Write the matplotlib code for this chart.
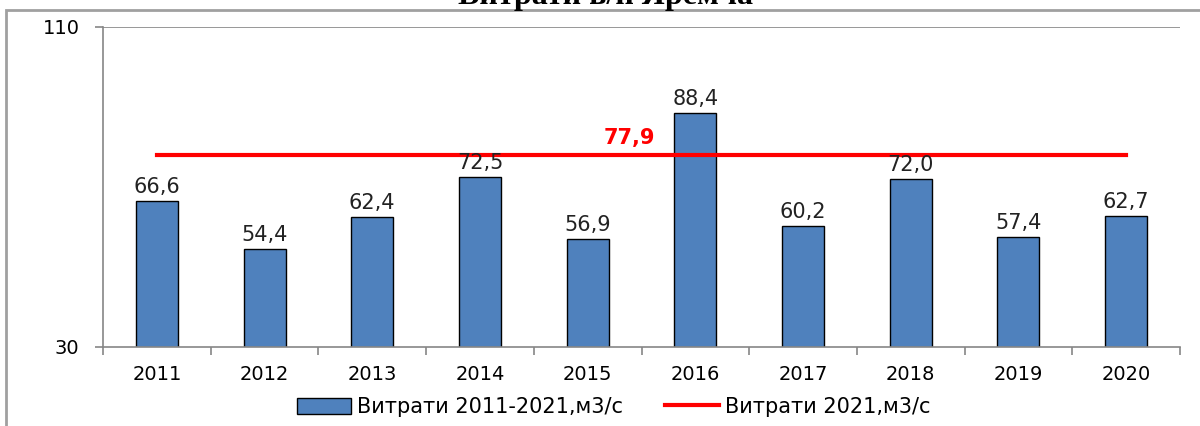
import numpy as np
import matplotlib
matplotlib.use('Agg')
import matplotlib.pyplot as plt
from matplotlib.patches import Rectangle
from matplotlib.lines import Line2D
from matplotlib.patches import Patch

# Data
years = ['2011', '2012', '2013', '2014', '2015', '2016', '2017', '2018', '2019', '2020']
flows = [66.6, 54.4, 62.4, 72.5, 56.9, 88.4, 60.2, 72.0, 57.4, 62.7]
flow_2021 = 77.9
bar_label = 'Витрати 2011-2021,м3/с'
line_label = 'Витрати 2021,м3/с'
title = 'Витрати в/п Яремча'

plt.rcParams['font.family'] = ['DejaVu Sans']

bar_col = '#4F81BD'
red = '#FF0000'
axcol = '#868686'

F1 = plt.figure(figsize=(12, 4.26), dpi=100)

# outer chart frame (partly outside the picture)
F1.patches.append(Rectangle((6/1200, -0.1), 1.2, 1 - 10/426 + 0.1, transform=F1.transFigure,
                            fill=False, edgecolor='#A0A0A0', linewidth=2))

F1.text(605/1200, 1 - 4/426, title, ha='center', va='baseline', fontsize=23,
        fontweight='bold', family='Liberation Serif')

ax1 = F1.add_axes([103/1200, 1 - 347/426, (1180 - 103)/1200, (347 - 27)/426])

x = np.arange(len(years))
bars = ax1.bar(x, flows, width=0.39, bottom=0, color=bar_col, edgecolor='black', linewidth=1.0, zorder=2)
ax1.plot([x[0], x[-1]], [flow_2021, flow_2021], color=red, linewidth=3, zorder=3)

for xi, v in zip(x, flows):
    ax1.text(xi, v + 1.0, ('%.1f' % v).replace('.', ','), ha='center', va='bottom', fontsize=15, color='#222222')

ax1.text(4.39, flow_2021 + 1.8, ('%.1f' % flow_2021).replace('.', ','), ha='center', va='bottom',
         fontsize=15, fontweight='bold', color=red)

ax1.set_xlim(-0.5, len(years) - 0.5)
ax1.set_ylim(30, 110)
ax1.set_yticks([30, 110])
ax1.set_yticklabels(['30', '110'], fontsize=14)
ax1.axhline(110, color=axcol, linewidth=1.2, zorder=1)

ax1.set_xticks(x)
ax1.set_xticklabels(years, fontsize=14)
ax1.set_xticks(np.arange(-0.5, len(years)), minor=True)
ax1.tick_params(axis='x', which='major', length=0, pad=13)
ax1.tick_params(axis='x', which='minor', length=6, color=axcol, width=1.2)
ax1.tick_params(axis='y', length=6, color=axcol, width=1.2, pad=11)

for s in ['top', 'right']:
    ax1.spines[s].set_visible(False)
for s in ['left', 'bottom']:
    ax1.spines[s].set_color(axcol)
    ax1.spines[s].set_linewidth(1.2)

handles = [Patch(facecolor=bar_col, edgecolor='black', linewidth=1.0),
           Line2D([0], [0], color=red, linewidth=3)]
F1.legend(handles, [bar_label, line_label], loc='center', bbox_to_anchor=(614/1200, 1 - 407/426),
          ncol=2, frameon=False, fontsize=15, handlelength=2.6, handleheight=0.8,
          columnspacing=2.0, handletextpad=0.3)

plt.savefig('out.png', dpi=100)
